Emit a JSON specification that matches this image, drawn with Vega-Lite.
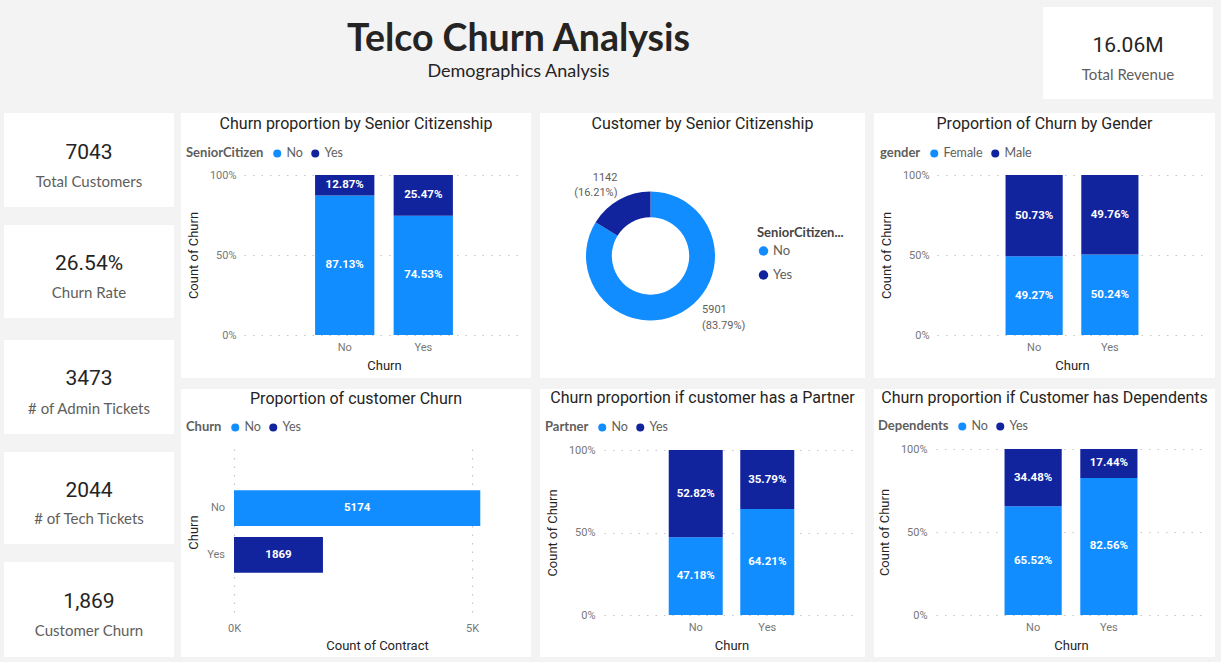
{
  "$schema": "https://vega.github.io/schema/vega-lite/v6.json",
  "background": "#f3f3f3",
  "padding": {"left": 4, "top": 7, "right": 6, "bottom": 5},
  "config": {
    "view": {"stroke": null},
    "axis": {"domain": false, "ticks": false, "labelFont": "Roboto", "labelFontSize": 11, "labelColor": "#777777", "titleFont": "Roboto", "titleFontSize": 13, "titleFontWeight": "normal", "titleColor": "#252423", "gridColor": "#c8c6c4", "gridDash": [1.5, 7], "gridWidth": 1.2, "labelAngle": 0, "labelFlush": false},
    "legend": {"orient": "none", "titleFont": "Lato", "titleFontSize": 13, "titleFontWeight": "bold", "titleColor": "#605E5C", "labelFont": "Lato", "labelFontSize": 12.5, "labelColor": "#605E5C", "symbolType": "circle", "symbolSize": 64, "symbolStrokeWidth": 0, "labelOffset": 3, "padding": 0, "columnPadding": 6, "titlePadding": 7},
    "text": {"font": "Roboto"}
  },
  "spacing": 14,
  "resolve": {"scale": {"color": "independent", "theta": "independent"}, "legend": {"color": "independent"}},
  "vconcat": [
    {
      "bounds": "flush",
      "spacing": 0,
      "hconcat": [
        {
          "width": 1039, "height": 92,
          "data": {"values": [{"heading": "Telco Churn Analysis", "subheading": "Demographics Analysis"}]},
          "layer": [
            {"mark": {"type": "text", "font": "Lato", "fontSize": 37.5, "fontWeight": "bold", "color": "#252423", "baseline": "alphabetic", "dx": -5, "dy": -2.3}, "encoding": {"text": {"field": "heading"}}},
            {"mark": {"type": "text", "font": "Lato", "fontSize": 18, "color": "#252423", "baseline": "alphabetic", "dx": -5, "dy": 24.3}, "encoding": {"text": {"field": "subheading"}}}
          ]
        },
        {
          "width": 170, "height": 92,
          "view": {"fill": "white", "stroke": null},
          "data": {"values": [{"metric": "Total Revenue", "value": 16060000}]},
          "layer": [
            {"mark": {"type": "text", "font": "Roboto", "fontSize": 21, "color": "#252423", "baseline": "alphabetic", "dy": -0.7}, "encoding": {"text": {"field": "value", "type": "quantitative", "format": ".4s"}}},
            {"mark": {"type": "text", "font": "Lato", "fontSize": 15, "color": "#605E5C", "baseline": "alphabetic", "dy": 27}, "encoding": {"text": {"field": "metric"}}}
          ]
        }
      ]
    },
    {
      "spacing": 7,
      "resolve": {"scale": {"color": "independent", "theta": "independent"}, "legend": {"color": "independent"}},
      "hconcat": [
        {
          "spacing": 22,
          "vconcat": [
            {
              "bounds": "flush",
              "spacing": 18,
              "vconcat": [
                {
                  "width": 170, "height": 94,
                  "view": {"fill": "white", "stroke": null},
                  "data": {"values": [{"metric": "Total Customers", "value": 7043}]},
                  "layer": [
                    {"mark": {"type": "text", "font": "Roboto", "fontSize": 21, "color": "#252423", "baseline": "alphabetic", "dy": -0.7}, "encoding": {"text": {"field": "value", "type": "quantitative", "format": "d"}}},
                    {"mark": {"type": "text", "font": "Lato", "fontSize": 15, "color": "#605E5C", "baseline": "alphabetic", "dy": 27.3}, "encoding": {"text": {"field": "metric"}}}
                  ]
                },
                {
                  "width": 170, "height": 93,
                  "view": {"fill": "white", "stroke": null},
                  "data": {"values": [{"metric": "Churn Rate", "value": 0.2654}]},
                  "layer": [
                    {"mark": {"type": "text", "font": "Roboto", "fontSize": 21, "color": "#252423", "baseline": "alphabetic", "dy": -1.5}, "encoding": {"text": {"field": "value", "type": "quantitative", "format": ".2%"}}},
                    {"mark": {"type": "text", "font": "Lato", "fontSize": 15, "color": "#605E5C", "baseline": "alphabetic", "dy": 26.2}, "encoding": {"text": {"field": "metric"}}}
                  ]
                }
              ]
            },
            {
              "bounds": "flush",
              "spacing": 18,
              "vconcat": [
                {
                  "width": 170, "height": 94,
                  "view": {"fill": "white", "stroke": null},
                  "data": {"values": [{"metric": "# of Admin Tickets", "value": 3473}]},
                  "layer": [
                    {"mark": {"type": "text", "font": "Roboto", "fontSize": 21, "color": "#252423", "baseline": "alphabetic", "dy": -2}, "encoding": {"text": {"field": "value", "type": "quantitative", "format": "d"}}},
                    {"mark": {"type": "text", "font": "Lato", "fontSize": 15, "color": "#605E5C", "baseline": "alphabetic", "dy": 27}, "encoding": {"text": {"field": "metric"}}}
                  ]
                },
                {
                  "width": 170, "height": 92,
                  "view": {"fill": "white", "stroke": null},
                  "data": {"values": [{"metric": "# of Tech Tickets", "value": 2044}]},
                  "layer": [
                    {"mark": {"type": "text", "font": "Roboto", "fontSize": 21, "color": "#252423", "baseline": "alphabetic", "dy": -1.3}, "encoding": {"text": {"field": "value", "type": "quantitative", "format": "d"}}},
                    {"mark": {"type": "text", "font": "Lato", "fontSize": 15, "color": "#605E5C", "baseline": "alphabetic", "dy": 26.3}, "encoding": {"text": {"field": "metric"}}}
                  ]
                },
                {
                  "width": 170, "height": 95,
                  "view": {"fill": "white", "stroke": null},
                  "data": {"values": [{"metric": "Customer Churn", "value": 1869}]},
                  "layer": [
                    {"mark": {"type": "text", "font": "Roboto", "fontSize": 21, "color": "#252423", "baseline": "alphabetic", "dy": -1.2}, "encoding": {"text": {"field": "value", "type": "quantitative", "format": ","}}},
                    {"mark": {"type": "text", "font": "Lato", "fontSize": 15, "color": "#605E5C", "baseline": "alphabetic", "dy": 26.2}, "encoding": {"text": {"field": "metric"}}}
                  ]
                }
              ]
            }
          ]
        },
        {
          "spacing": 11,
          "resolve": {"scale": {"color": "independent", "theta": "independent"}, "legend": {"color": "independent"}},
          "vconcat": [
            {
              "spacing": 9,
              "resolve": {"scale": {"color": "independent", "theta": "independent"}, "legend": {"color": "independent"}},
              "hconcat": [
                {
                  "width": 350, "height": 265,
                  "view": {"fill": "white", "stroke": null},
                  "layer": [
                    {"data": {"values": [{"heading": "Churn proportion by Senior Citizenship"}]},
                     "mark": {"type": "text", "fontSize": 16, "color": "#252423", "baseline": "alphabetic", "dy": -116.2},
                     "encoding": {"text": {"field": "heading"}}},
                    {
                      "data": {"values": [
                        {"Churn": "No", "SeniorCitizen": "No", "share": 0.8713},
                        {"Churn": "No", "SeniorCitizen": "Yes", "share": 0.1287},
                        {"Churn": "Yes", "SeniorCitizen": "No", "share": 0.7453},
                        {"Churn": "Yes", "SeniorCitizen": "Yes", "share": 0.2547}
                      ]},
                      "encoding": {
                        "x": {"field": "Churn", "type": "nominal", "title": "Churn",
                          "scale": {"range": [63, 343], "paddingInner": 0.245, "paddingOuter": 0.905},
                          "axis": {"offset": -43, "labelPadding": 6, "titleY": 30, "titleBaseline": "middle", "grid": false}},
                        "order": {"field": "SeniorCitizen", "type": "nominal", "sort": "ascending"}
                      },
                      "layer": [
                        {"mark": {"type": "bar"},
                         "encoding": {
                           "y": {"field": "share", "type": "quantitative", "stack": "zero", "title": "Count of Churn",
                             "scale": {"domain": [0, 1], "range": [222, 62], "nice": false},
                             "axis": {"offset": -63, "values": [0, 0.5, 1], "format": ".0%", "labelPadding": 8, "grid": true, "titleX": -50.7, "titleY": 142, "titleBaseline": "middle"}},
                           "color": {"field": "SeniorCitizen", "type": "nominal", "scale": {"domain": ["No", "Yes"], "range": ["#118DFF", "#12239E"]},
                             "legend": {"title": "SeniorCitizen", "direction": "horizontal", "titleOrient": "left", "legendX": 5, "legendY": 34}}}},
                        {"mark": {"type": "text", "color": "white", "fontSize": 11.5, "fontWeight": "bold", "baseline": "middle"},
                         "encoding": {
                           "y": {"field": "share", "type": "quantitative", "stack": "zero", "bandPosition": 0.5, "title": "Count of Churn",
                             "scale": {"domain": [0, 1], "range": [222, 62], "nice": false},
                             "axis": {"offset": -63, "values": [0, 0.5, 1], "format": ".0%", "labelPadding": 8, "grid": true, "titleX": -50.7, "titleY": 142, "titleBaseline": "middle"}},
                           "detail": {"field": "SeniorCitizen", "type": "nominal"},
                           "text": {"field": "share", "type": "quantitative", "format": ".2%"}}}
                      ]
                    }
                  ]
                },
                {
                  "spacing": 0,
                  "resolve": {"scale": {"color": "independent", "theta": "independent"}, "legend": {"color": "independent"}},
                  "vconcat": [
                    {
                      "width": 325, "height": 21,
                      "view": {"fill": "white", "stroke": null},
                      "data": {"values": [{"heading": "Customer by Senior Citizenship"}]},
                      "mark": {"type": "text", "font": "Roboto", "fontSize": 16, "color": "#252423", "baseline": "alphabetic", "dy": 5.8},
                      "encoding": {"text": {"field": "heading"}}
                    },
                    {
                      "bounds": "flush",
                      "spacing": 0,
                      "resolve": {"scale": {"color": "independent", "theta": "independent"}, "legend": {"color": "independent"}},
                      "hconcat": [
                        {
                          "width": 221, "height": 244,
                          "view": {"fill": "white", "stroke": null},
                          "data": {"values": [
                            {"SeniorCitizen": "No", "customers": 5901, "label": "5901\n(83.79%)"},
                            {"SeniorCitizen": "Yes", "customers": 1142, "label": "1142\n(16.21%)"}
                          ]},
                          "encoding": {
                            "theta": {"field": "customers", "type": "quantitative", "stack": "zero"},
                            "order": {"field": "SeniorCitizen", "type": "nominal", "sort": "ascending"}
                          },
                          "layer": [
                            {"mark": {"type": "arc", "innerRadius": 38.7, "outerRadius": 64.5},
                             "encoding": {"color": {"field": "SeniorCitizen", "type": "nominal", "scale": {"domain": ["No", "Yes"], "range": ["#118DFF", "#12239E"]}, "legend": null}}},
                            {"mark": {"type": "text", "radius": 80, "align": "right", "baseline": "middle", "dx": 6, "dy": -8.5, "lineBreak": "\n", "lineHeight": 15.5, "fontSize": 11, "color": "#605E5C"},
                             "encoding": {"text": {"field": "label"}, "detail": {"field": "SeniorCitizen", "type": "nominal"},
                               "opacity": {"condition": {"test": "datum.SeniorCitizen == 'Yes'", "value": 1}, "value": 0}}},
                            {"mark": {"type": "text", "radius": 80, "align": "left", "baseline": "middle", "dx": 12.5, "dy": -15.6, "lineBreak": "\n", "lineHeight": 15.5, "fontSize": 11, "color": "#605E5C"},
                             "encoding": {"text": {"field": "label"}, "detail": {"field": "SeniorCitizen", "type": "nominal"},
                               "opacity": {"condition": {"test": "datum.SeniorCitizen == 'No'", "value": 1}, "value": 0}}}
                          ]
                        },
                        {
                          "width": 104, "height": 244,
                          "view": {"fill": "white", "stroke": null},
                          "data": {"values": [
                            {"SeniorCitizen": "No", "customers": 5901},
                            {"SeniorCitizen": "Yes", "customers": 1142}
                          ]},
                          "mark": {"type": "circle", "opacity": 0},
                          "encoding": {"color": {"field": "SeniorCitizen", "type": "nominal", "scale": {"domain": ["No", "Yes"], "range": ["#118DFF", "#12239E"]},
                            "legend": {"title": "SeniorCitizen...", "direction": "vertical", "titleOrient": "top", "legendX": -4, "legendY": 92.5, "titleFontSize": 13, "labelFontSize": 13, "symbolSize": 90, "symbolOpacity": 1, "rowPadding": 10, "titlePadding": 5, "titleColor": "#444444"}}}
                        }
                      ]
                    }
                  ]
                },
                {
                  "width": 341, "height": 265,
                  "view": {"fill": "white", "stroke": null},
                  "layer": [
                    {"data": {"values": [{"heading": "Proportion of Churn by Gender"}]},
                     "mark": {"type": "text", "fontSize": 16, "color": "#252423", "baseline": "alphabetic", "dy": -116.2},
                     "encoding": {"text": {"field": "heading"}}},
                    {
                      "data": {"values": [
                        {"Churn": "No", "gender": "Female", "share": 0.4927},
                        {"Churn": "No", "gender": "Male", "share": 0.5073},
                        {"Churn": "Yes", "gender": "Female", "share": 0.5024},
                        {"Churn": "Yes", "gender": "Male", "share": 0.4976}
                      ]},
                      "encoding": {
                        "x": {"field": "Churn", "type": "nominal", "title": "Churn",
                          "scale": {"range": [63, 333], "paddingInner": 0.245, "paddingOuter": 0.905},
                          "axis": {"offset": -43, "labelPadding": 6, "titleY": 30, "titleBaseline": "middle", "grid": false}},
                        "order": {"field": "gender", "type": "nominal", "sort": "ascending"}
                      },
                      "layer": [
                        {"mark": {"type": "bar"},
                         "encoding": {
                           "y": {"field": "share", "type": "quantitative", "stack": "zero", "title": "Count of Churn",
                             "scale": {"domain": [0, 1], "range": [222, 62], "nice": false},
                             "axis": {"offset": -63, "values": [0, 0.5, 1], "format": ".0%", "labelPadding": 8, "grid": true, "titleX": -50.7, "titleY": 142, "titleBaseline": "middle"}},
                           "color": {"field": "gender", "type": "nominal", "scale": {"domain": ["Female", "Male"], "range": ["#118DFF", "#12239E"]},
                             "legend": {"title": "gender", "direction": "horizontal", "titleOrient": "left", "legendX": 6, "legendY": 34}}}},
                        {"mark": {"type": "text", "color": "white", "fontSize": 11.5, "fontWeight": "bold", "baseline": "middle"},
                         "encoding": {
                           "y": {"field": "share", "type": "quantitative", "stack": "zero", "bandPosition": 0.5, "title": "Count of Churn",
                             "scale": {"domain": [0, 1], "range": [222, 62], "nice": false},
                             "axis": {"offset": -63, "values": [0, 0.5, 1], "format": ".0%", "labelPadding": 8, "grid": true, "titleX": -50.7, "titleY": 142, "titleBaseline": "middle"}},
                           "detail": {"field": "gender", "type": "nominal"},
                           "text": {"field": "share", "type": "quantitative", "format": ".2%"}}}
                      ]
                    }
                  ]
                }
              ]
            },
            {
              "bounds": "flush",
              "spacing": 9,
              "resolve": {"scale": {"color": "independent", "theta": "independent"}, "legend": {"color": "independent"}},
              "hconcat": [
                {
                  "width": 350, "height": 268,
                  "view": {"fill": "white", "stroke": null},
                  "layer": [
                    {"data": {"values": [{"heading": "Proportion of customer Churn"}]},
                     "mark": {"type": "text", "fontSize": 16, "color": "#252423", "baseline": "alphabetic", "dy": -119},
                     "encoding": {"text": {"field": "heading"}}},
                    {
                      "data": {"values": [
                        {"Churn": "No", "contracts": 5174},
                        {"Churn": "Yes", "contracts": 1869}
                      ]},
                      "encoding": {
                        "y": {"field": "Churn", "type": "nominal", "title": "Churn",
                          "scale": {"range": [45, 209.3], "paddingInner": 0.236, "paddingOuter": 0.877, "align": 0.687},
                          "axis": {"offset": -53, "labelPadding": 9.5, "grid": false, "titleX": -40.7, "titleY": 143, "titleBaseline": "middle"}}
                      },
                      "layer": [
                        {"mark": {"type": "bar"},
                         "encoding": {
                           "x": {"field": "contracts", "type": "quantitative", "stack": "zero", "title": "Count of Contract",
                             "scale": {"domain": [0, 5000], "range": [53, 291], "nice": false},
                             "axis": {"offset": -45, "values": [0, 5000], "labelExpr": "datum.value / 1000 + 'K'", "labelPadding": 10, "grid": true, "titleX": 196, "titleY": 33.3, "titleBaseline": "middle"}},
                           "color": {"field": "Churn", "type": "nominal", "scale": {"domain": ["No", "Yes"], "range": ["#118DFF", "#12239E"]},
                             "legend": {"title": "Churn", "direction": "horizontal", "titleOrient": "left", "legendX": 5, "legendY": 32}}}},
                        {"mark": {"type": "text", "color": "white", "fontSize": 11.5, "fontWeight": "bold", "baseline": "middle"},
                         "encoding": {
                           "x": {"field": "contracts", "type": "quantitative", "stack": "zero", "bandPosition": 0.5, "title": "Count of Contract",
                             "scale": {"domain": [0, 5000], "range": [53, 291], "nice": false},
                             "axis": {"offset": -45, "values": [0, 5000], "labelExpr": "datum.value / 1000 + 'K'", "labelPadding": 10, "grid": true, "titleX": 196, "titleY": 33.3, "titleBaseline": "middle"}},
                           "text": {"field": "contracts", "type": "quantitative", "format": "d"}}}
                      ]
                    }
                  ]
                },
                {
                  "width": 325, "height": 268,
                  "view": {"fill": "white", "stroke": null},
                  "layer": [
                    {"data": {"values": [{"heading": "Churn proportion if customer has a Partner"}]},
                     "mark": {"type": "text", "fontSize": 16, "color": "#252423", "baseline": "alphabetic", "dy": -120},
                     "encoding": {"text": {"field": "heading"}}},
                    {
                      "data": {"values": [
                        {"Churn": "No", "Partner": "No", "share": 0.4718},
                        {"Churn": "No", "Partner": "Yes", "share": 0.5282},
                        {"Churn": "Yes", "Partner": "No", "share": 0.6421},
                        {"Churn": "Yes", "Partner": "Yes", "share": 0.3579}
                      ]},
                      "encoding": {
                        "x": {"field": "Churn", "type": "nominal", "title": "Churn",
                          "scale": {"range": [64, 319], "paddingInner": 0.245, "paddingOuter": 0.905},
                          "axis": {"offset": -42, "labelPadding": 6, "titleY": 30, "titleBaseline": "middle", "grid": false}},
                        "order": {"field": "Partner", "type": "nominal", "sort": "ascending"}
                      },
                      "layer": [
                        {"mark": {"type": "bar"},
                         "encoding": {
                           "y": {"field": "share", "type": "quantitative", "stack": "zero", "title": "Count of Churn",
                             "scale": {"domain": [0, 1], "range": [226, 61], "nice": false},
                             "axis": {"offset": -64, "values": [0, 0.5, 1], "format": ".0%", "labelPadding": 9, "grid": true, "titleX": -51.5, "titleY": 143.5, "titleBaseline": "middle"}},
                           "color": {"field": "Partner", "type": "nominal", "scale": {"domain": ["No", "Yes"], "range": ["#118DFF", "#12239E"]},
                             "legend": {"title": "Partner", "direction": "horizontal", "titleOrient": "left", "legendX": 5, "legendY": 32}}}},
                        {"mark": {"type": "text", "color": "white", "fontSize": 11.5, "fontWeight": "bold", "baseline": "middle"},
                         "encoding": {
                           "y": {"field": "share", "type": "quantitative", "stack": "zero", "bandPosition": 0.5, "title": "Count of Churn",
                             "scale": {"domain": [0, 1], "range": [226, 61], "nice": false},
                             "axis": {"offset": -64, "values": [0, 0.5, 1], "format": ".0%", "labelPadding": 9, "grid": true, "titleX": -51.5, "titleY": 143.5, "titleBaseline": "middle"}},
                           "detail": {"field": "Partner", "type": "nominal"},
                           "text": {"field": "share", "type": "quantitative", "format": ".2%"}}}
                      ]
                    }
                  ]
                },
                {
                  "width": 341, "height": 268,
                  "view": {"fill": "white", "stroke": null},
                  "layer": [
                    {"data": {"values": [{"heading": "Churn proportion if Customer has Dependents"}]},
                     "mark": {"type": "text", "fontSize": 16, "color": "#252423", "baseline": "alphabetic", "dy": -120.3},
                     "encoding": {"text": {"field": "heading"}}},
                    {
                      "data": {"values": [
                        {"Churn": "No", "Dependents": "No", "share": 0.6552},
                        {"Churn": "No", "Dependents": "Yes", "share": 0.3448},
                        {"Churn": "Yes", "Dependents": "No", "share": 0.8256},
                        {"Churn": "Yes", "Dependents": "Yes", "share": 0.1744}
                      ]},
                      "encoding": {
                        "x": {"field": "Churn", "type": "nominal", "title": "Churn",
                          "scale": {"range": [62, 332], "paddingInner": 0.245, "paddingOuter": 0.905},
                          "axis": {"offset": -42, "labelPadding": 6, "titleY": 30, "titleBaseline": "middle", "grid": false}},
                        "order": {"field": "Dependents", "type": "nominal", "sort": "ascending"}
                      },
                      "layer": [
                        {"mark": {"type": "bar"},
                         "encoding": {
                           "y": {"field": "share", "type": "quantitative", "stack": "zero", "title": "Count of Churn",
                             "scale": {"domain": [0, 1], "range": [226, 60], "nice": false},
                             "axis": {"offset": -62, "values": [0, 0.5, 1], "format": ".0%", "labelPadding": 9, "grid": true, "titleX": -51.5, "titleY": 143, "titleBaseline": "middle"}},
                           "color": {"field": "Dependents", "type": "nominal", "scale": {"domain": ["No", "Yes"], "range": ["#118DFF", "#12239E"]},
                             "legend": {"title": "Dependents", "direction": "horizontal", "titleOrient": "left", "legendX": 4, "legendY": 31}}}},
                        {"mark": {"type": "text", "color": "white", "fontSize": 11.5, "fontWeight": "bold", "baseline": "middle"},
                         "encoding": {
                           "y": {"field": "share", "type": "quantitative", "stack": "zero", "bandPosition": 0.5, "title": "Count of Churn",
                             "scale": {"domain": [0, 1], "range": [226, 60], "nice": false},
                             "axis": {"offset": -62, "values": [0, 0.5, 1], "format": ".0%", "labelPadding": 9, "grid": true, "titleX": -51.5, "titleY": 143, "titleBaseline": "middle"}},
                           "detail": {"field": "Dependents", "type": "nominal"},
                           "text": {"field": "share", "type": "quantitative", "format": ".2%"}}}
                      ]
                    }
                  ]
                }
              ]
            }
          ]
        }
      ]
    }
  ]
}
